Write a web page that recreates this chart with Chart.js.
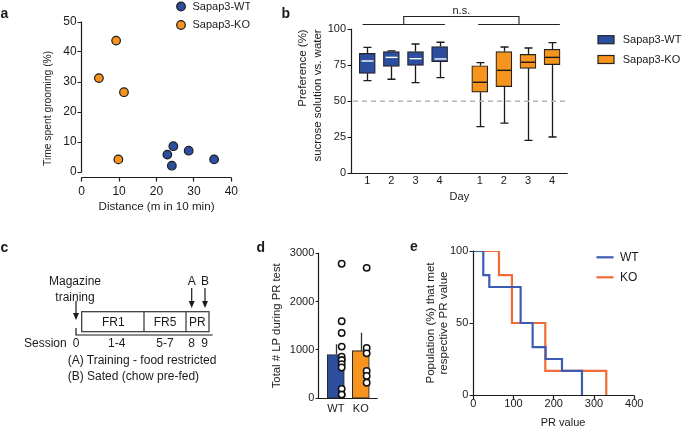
<!DOCTYPE html>
<html><head><meta charset="utf-8">
<script src="https://cdn.jsdelivr.net/npm/chart.js@4.4.0/dist/chart.umd.min.js"></script>
<style>
html,body{margin:0;padding:0;background:#fff;overflow:hidden;width:685px;height:428px;}
#wrap{position:relative;width:685px;height:428px;}
canvas{position:absolute;}
svg{position:absolute;left:0;top:0;}
</style></head><body><div id="wrap">
<canvas id="ca" width="250" height="215" style="left:0;top:0;width:250px;height:215px"></canvas>
<canvas id="cb" width="435" height="205" style="left:250px;top:0;width:435px;height:205px"></canvas>
<canvas id="cd" width="150" height="223" style="left:250px;top:205px;width:150px;height:223px"></canvas>
<canvas id="ce" width="285" height="223" style="left:400px;top:205px;width:285px;height:223px"></canvas>
<svg width="685" height="428" viewBox="0 0 685 428" font-family="'Liberation Sans', Arial, sans-serif" font-size="12" fill="#1a1a1a">
 <g font-weight="bold" font-size="14">
  <text x="0.5" y="18">a</text>
  <text x="281.5" y="18">b</text>
  <text x="0.5" y="252">c</text>
  <text x="256.5" y="251.5">d</text>
  <text x="410" y="250.5">e</text>
 </g>
 <g dominant-baseline="central">
  <text x="75" y="281" text-anchor="middle">Magazine</text>
  <text x="75" y="296.7" text-anchor="middle">training</text>
  <text x="191.7" y="281" text-anchor="middle">A</text>
  <text x="205" y="281" text-anchor="middle">B</text>
  <text x="113.3" y="322.2" text-anchor="middle">FR1</text>
  <text x="165" y="322.2" text-anchor="middle">FR5</text>
  <text x="197.3" y="322.2" text-anchor="middle">PR</text>
  <text x="66.7" y="342.7" text-anchor="end">Session</text>
  <text x="76" y="342.7" text-anchor="middle">0</text>
  <text x="116.7" y="342.7" text-anchor="middle">1-4</text>
  <text x="165" y="342.7" text-anchor="middle">5-7</text>
  <text x="191.7" y="342.7" text-anchor="middle">8</text>
  <text x="204.5" y="342.7" text-anchor="middle">9</text>
  <text x="67.7" y="360">(A) Training - food restricted</text>
  <text x="67.7" y="375.7">(B) Sated (chow pre-fed)</text>
 </g>
 <g stroke="#1a1a1a" stroke-width="1.2" fill="none">
  <line x1="76" y1="301" x2="76" y2="314"/>
  <line x1="191.7" y1="288" x2="191.7" y2="302"/>
  <line x1="205" y1="288" x2="205" y2="302"/>
  <rect x="81.7" y="311.7" width="127.3" height="20" stroke="#333"/>
  <line x1="144" y1="311.7" x2="144" y2="331.7" stroke="#333"/>
  <line x1="186" y1="311.7" x2="186" y2="331.7" stroke="#333"/>
  <line x1="75.5" y1="335" x2="212.7" y2="335"/>
  <line x1="76" y1="328" x2="76" y2="335"/>
 </g>
 <g fill="#1a1a1a">
  <path d="M73,313 L79,313 L76,320 Z"/>
  <path d="M188.7,301 L194.7,301 L191.7,308 Z"/>
  <path d="M202,301 L208,301 L205,308 Z"/>
 </g>
</svg>
</div>
<script>
// ---------- Panel a: grooming vs distance ----------
const distWT  = [24.5, 22.9, 28.6, 24.1, 35.4];
const groomWT = [8.6, 5.8, 7.1, 2.1, 4.2];
const distKO  = [9.2, 4.6, 11.3, 9.8];
const groomKO = [43.8, 31.3, 26.6, 4.2];

// ---------- Panel b: sucrose preference box plots ----------
const dayLabels = ['1', '2', '3', '4'];
const wtMin = [64.3, 65.3, 63.0, 66.4];
const wtQ1  = [69.4, 74.3, 75.0, 77.5];
const wtMed = [78.0, 80.5, 79.6, 79.4];
const wtQ3  = [83.3, 84.5, 84.5, 88.0];
const wtMax = [87.5, 85.0, 89.8, 91.0];
const koMin = [32.4, 34.9, 22.9, 25.2];
const koQ1  = [56.3, 60.2, 72.9, 75.5];
const koMed = [63.2, 71.5, 77.1, 80.5];
const koQ3  = [74.7, 84.5, 82.6, 86.1];
const koMax = [76.8, 87.7, 87.0, 90.7];
const chanceLevel = 50;

// ---------- Panel d: total lever presses ----------
const genotypes = ['WT', 'KO'];
const lpMean = [905, 985];
const lpSem  = [213, 372];
const lpWT = [2783, 1594, 1350, 1070, 860, 790, 790, 706, 636, 196, 77, 77];
const lpKO = [2699, 1042, 930, 566, 462, 322];

// ---------- Panel e: PR survival ----------
const prWT  = [0, 24.8, 39.8, 117.6, 147.4, 179.7, 220.3, 270];
const popWT = [100, 83.3, 75, 50, 33.3, 25, 16.7, 0];
const prKO  = [0, 63.8, 96, 178.9, 330.4];
const popKO = [100, 83.3, 50, 16.7, 0];

const COL = { blue: '#2C4E9F', orange: '#F7941D', dark: '#1c1c1c', lineBlue: '#3C5CB4', lineOrange: '#F26A36' };
const FONT = "'Liberation Sans', Arial, Helvetica, sans-serif";
Chart.defaults.font.family = FONT;
Chart.defaults.font.size = 11;
Chart.defaults.color = '#1a1a1a';
Chart.defaults.animation = false;
Chart.defaults.responsive = false;
Chart.defaults.events = [];
Chart.defaults.plugins.legend.display = false;
Chart.defaults.plugins.tooltip.enabled = false;

const noGrid = { display: false, drawTicks: false };
const noBorder = { display: false };
const plainNum = v => String(v);

// Prism-style axes drawn from the chart's own scales
const prismAxes = {
  id: 'prismAxes',
  beforeDatasetsDraw(chart, args, o) {
    const { ctx, chartArea: ca } = chart;
    const x = chart.scales.x, y = chart.scales.y;
    const r = v => Math.round(v - 0.5) + 0.5;
    ctx.save();
    ctx.strokeStyle = o.color || COL.dark;
    ctx.lineWidth = o.width || 1.2;
    ctx.beginPath();
    const ax = r(ca.left);
    ctx.moveTo(ax, y.getPixelForValue(y.max) - 0.5);
    ctx.lineTo(ax, y.getPixelForValue(y.min) + 0.5);
    if (o.yTicks) y.ticks.forEach(t => { const p = r(y.getPixelForValue(t.value)); ctx.moveTo(ax - o.tick, p); ctx.lineTo(ax, p); });
    const ay = r(ca.bottom + (o.xGap || 0));
    ctx.moveTo(ax - (o.xGap ? 0 : 0.5), ay);
    ctx.lineTo(ca.right, ay);
    if (o.xTicks) x.ticks.forEach(t => { const p = r(x.getPixelForValue(t.value)); ctx.moveTo(p, ay); ctx.lineTo(p, ay + o.tick); });
    ctx.stroke();
    ctx.restore();
  }
};

// Axis title placed along a scale (rotated for y, horizontal for x)
const axisTitle = {
  id: 'axisTitle',
  afterDraw(chart, args, o) {
    const ctx = chart.ctx;
    ctx.save();
    ctx.font = o.size + 'px ' + FONT;
    ctx.fillStyle = '#1a1a1a';
    ctx.textAlign = 'center'; ctx.textBaseline = 'middle';
    if (o.axis === 'y') {
      ctx.translate(o.x, chart.scales.y.getPixelForValue(o.atValue));
      ctx.rotate(-Math.PI / 2);
      ctx.fillText(o.text, 0, 0);
    } else {
      ctx.fillText(o.text, chart.scales.x.getPixelForValue(o.atValue), o.y);
    }
    ctx.restore();
  }
};

// Custom legends
const customLegend = {
  id: 'customLegend',
  afterDraw(chart, args, o) {
    const ctx = chart.ctx;
    ctx.save();
    ctx.font = (o.fontSize || 11) + 'px ' + FONT;
    ctx.textBaseline = 'middle';
    o.items.forEach(it => {
      if (o.kind === 'dot') {
        ctx.beginPath(); ctx.arc(it.mx, it.my, 4.3, 0, Math.PI * 2);
        ctx.fillStyle = it.color; ctx.fill();
        ctx.lineWidth = 1.2; ctx.strokeStyle = COL.dark; ctx.stroke();
      } else if (o.kind === 'box') {
        ctx.fillStyle = it.color; ctx.fillRect(it.mx, it.my - 4, 16, 8);
        ctx.lineWidth = 1.2; ctx.strokeStyle = '#222'; ctx.strokeRect(it.mx, it.my - 4, 16, 8);
      } else {
        ctx.beginPath(); ctx.moveTo(it.mx, it.my); ctx.lineTo(it.mx + 17, it.my);
        ctx.lineWidth = 2.2; ctx.strokeStyle = it.color; ctx.stroke();
      }
      ctx.fillStyle = '#1a1a1a';
      ctx.fillText(it.text, it.tx, it.my);
    });
    ctx.restore();
  }
};

// ---------------- Panel a ----------------
new Chart(document.getElementById('ca'), {
  type: 'scatter',
  data: { datasets: [
    { label: 'Sapap3-WT', data: distWT.map((d, i) => ({ x: d, y: groomWT[i] })), backgroundColor: COL.blue, borderColor: COL.dark, borderWidth: 1.2, pointRadius: 4.3 },
    { label: 'Sapap3-KO', data: distKO.map((d, i) => ({ x: d, y: groomKO[i] })), backgroundColor: COL.orange, borderColor: COL.dark, borderWidth: 1.2, pointRadius: 4.3 }
  ]},
  options: {
    layout: { padding: { left: 0, top: 22, right: 16.7, bottom: 0 } },
    scales: {
      x: { type: 'linear', min: 0, max: 40, offset: false, grid: noGrid, border: noBorder,
           ticks: { stepSize: 10, padding: 12, maxRotation: 0, font: { size: 12 } },
           title: { display: true, text: 'Distance (m in 10 min)', font: { size: 11.6 }, padding: { top: 0, bottom: 1.2 } },
           afterFit: s => { s.height = 43; } },
      y: { min: 0, max: 50, grid: noGrid, border: noBorder,
           ticks: { stepSize: 10, padding: 5, font: { size: 12 } },
           afterFit: s => { s.width = 81.7; } }
    },
    plugins: {
      prismAxes: { xGap: 5, tick: 4, xTicks: true, yTicks: true },
      axisTitle: { axis: 'y', text: 'Time spent grooming (%)', x: 48.3, atValue: 21.2, size: 10.3 },
      customLegend: { kind: 'dot', items: [
        { text: 'Sapap3-WT', color: COL.blue, mx: 181, my: 6.5, tx: 192.5 },
        { text: 'Sapap3-KO', color: COL.orange, mx: 181, my: 25, tx: 192.5 }
      ]}
    }
  },
  plugins: [prismAxes, axisTitle, customLegend]
});

// ---------------- Panel b ----------------
const groupGap = 0.667;
const posWT = dayLabels.map((d, i) => i + 1);
const posKO = dayLabels.map((d, i) => i + 1 + dayLabels.length + groupGap);
const allPos = posWT.concat(posKO);
const allLabels = dayLabels.concat(dayLabels);

const boxWhiskers = {
  id: 'boxWhiskers',
  afterDatasetsDraw(chart, args, o) {
    const { ctx } = chart; const x = chart.scales.x, y = chart.scales.y;
    ctx.save();
    o.groups.forEach(g => {
      g.pos.forEach((p, i) => {
        const px = Math.round(x.getPixelForValue(p)) + 0.5;
        const cap = o.capWidth / 2, half = o.boxWidth / 2;
        const yMax = y.getPixelForValue(g.max[i]), yMin = y.getPixelForValue(g.min[i]);
        ctx.strokeStyle = o.color; ctx.lineWidth = o.lineWidth;
        ctx.beginPath();
        ctx.moveTo(px, y.getPixelForValue(g.q3[i])); ctx.lineTo(px, yMax);
        ctx.moveTo(px - cap, yMax); ctx.lineTo(px + cap, yMax);
        ctx.moveTo(px, y.getPixelForValue(g.q1[i])); ctx.lineTo(px, yMin);
        ctx.moveTo(px - cap, yMin); ctx.lineTo(px + cap, yMin);
        ctx.stroke();
        const ym = y.getPixelForValue(g.med[i]);
        ctx.strokeStyle = g.medColor; ctx.lineWidth = 1.4;
        ctx.beginPath(); ctx.moveTo(px - half + g.inset, ym); ctx.lineTo(px + half - g.inset, ym); ctx.stroke();
      });
    });
    const yc = y.getPixelForValue(o.chance);
    ctx.setLineDash([5, 4]); ctx.strokeStyle = '#b5b5b5'; ctx.lineWidth = 1.5;
    ctx.beginPath(); ctx.moveTo(chart.chartArea.left + 2, yc); ctx.lineTo(chart.chartArea.right, yc); ctx.stroke();
    ctx.setLineDash([]);
    const b = o.bracket;
    const xa0 = x.getPixelForValue(b.wt[0]), xa1 = x.getPixelForValue(b.wt[1]);
    const xb0 = x.getPixelForValue(b.ko[0]), xb1 = x.getPixelForValue(b.ko[1]);
    const ca = (xa0 + xa1) / 2, cb = (xb0 + xb1) / 2;
    ctx.strokeStyle = '#222'; ctx.lineWidth = 1.1;
    ctx.beginPath();
    ctx.moveTo(xa0, b.low); ctx.lineTo(xa1, b.low);
    ctx.moveTo(xb0, b.low); ctx.lineTo(xb1, b.low);
    ctx.moveTo(ca, b.low); ctx.lineTo(ca, b.high); ctx.lineTo(cb, b.high); ctx.lineTo(cb, b.low);
    ctx.stroke();
    ctx.fillStyle = '#1a1a1a'; ctx.font = '11px ' + FONT; ctx.textAlign = 'center'; ctx.textBaseline = 'middle';
    ctx.fillText(b.text, (ca + cb) / 2, b.textY);
    ctx.restore();
  }
};

new Chart(document.getElementById('cb'), {
  type: 'bar',
  data: { datasets: [
    { label: 'Sapap3-WT', data: posWT.map((p, i) => ({ x: p, y: [wtQ1[i], wtQ3[i]] })), backgroundColor: COL.blue, borderColor: '#222', borderWidth: 1.2, borderSkipped: false, barThickness: 16, grouped: false },
    { label: 'Sapap3-KO', data: posKO.map((p, i) => ({ x: p, y: [koQ1[i], koQ3[i]] })), backgroundColor: COL.orange, borderColor: '#222', borderWidth: 1.2, borderSkipped: false, barThickness: 16, grouped: false }
  ]},
  options: {
    layout: { padding: { left: 0, top: 29.3, right: 117.3, bottom: 0 } },
    scales: {
      x: { type: 'linear', min: 0.324, max: 9.316, offset: false, grid: noGrid, border: noBorder,
           afterBuildTicks: s => { s.ticks = allPos.map(v => ({ value: v })); },
           ticks: { autoSkip: false, maxRotation: 0, padding: 0.8, callback: (v, i) => allLabels[i] },
           title: { display: true, text: 'Day', padding: { top: 0, bottom: 1.9 } },
           afterFit: s => { s.height = 31.7; } },
      y: { min: 0, max: 100, grid: noGrid, border: noBorder,
           ticks: { stepSize: 25, padding: 5 },
           title: { display: true, text: ['Preference (%)', 'sucrose solution vs. water'], align: 'end',
                    font: { size: 11.5, lineHeight: '15px' }, padding: { top: 45.8, bottom: 0 } },
           afterFit: s => { s.width = 101; } }
    },
    plugins: {
      prismAxes: { xGap: 0, tick: 4, xTicks: false, yTicks: true },
      boxWhiskers: {
        capWidth: 8, boxWidth: 16, color: '#1a1a1a', lineWidth: 1.3, chance: chanceLevel,
        groups: [
          { pos: posWT, min: wtMin, q1: wtQ1, med: wtMed, q3: wtQ3, max: wtMax, medColor: '#ffffff', inset: 2 },
          { pos: posKO, min: koMin, q1: koQ1, med: koMed, q3: koQ3, max: koMax, medColor: '#1a1a1a', inset: 0.5 }
        ],
        bracket: { wt: [0.805, 4.22], ko: [5.6, 8.99], low: 24.5, high: 16.5, text: 'n.s.', textY: 10.5 }
      },
      customLegend: { kind: 'box', items: [
        { text: 'Sapap3-WT', color: COL.blue, mx: 348, my: 39.7, tx: 372.7 },
        { text: 'Sapap3-KO', color: COL.orange, mx: 348, my: 59.5, tx: 372.7 }
      ]}
    }
  },
  plugins: [prismAxes, boxWhiskers, customLegend]
});

// ---------------- Panel d ----------------
const barPos = genotypes.map((g, i) => i + 1);
const dotShift = 0.235;
const errorBars = {
  id: 'errorBars',
  beforeDatasetsDraw(chart, args, o) {
    const { ctx } = chart; const x = chart.scales.x, y = chart.scales.y;
    ctx.save(); ctx.strokeStyle = '#333'; ctx.lineWidth = 1.3;
    ctx.beginPath();
    o.pos.forEach((p, i) => {
      const px = Math.round(x.getPixelForValue(p)) + 0.5;
      ctx.moveTo(px, y.getPixelForValue(o.mean[i])); ctx.lineTo(px, y.getPixelForValue(o.mean[i] + o.sem[i]));
    });
    ctx.stroke(); ctx.restore();
  }
};
new Chart(document.getElementById('cd'), {
  type: 'bar',
  data: { datasets: [
    { type: 'scatter', label: 'WT points', data: lpWT.map(v => ({ x: barPos[0] + dotShift, y: v })), backgroundColor: '#fff', borderColor: '#111', borderWidth: 1.5, pointRadius: 3.2, order: 0 },
    { type: 'scatter', label: 'KO points', data: lpKO.map(v => ({ x: barPos[1] + dotShift, y: v })), backgroundColor: '#fff', borderColor: '#111', borderWidth: 1.5, pointRadius: 3.2, order: 0 },
    { type: 'bar', label: 'Mean', data: barPos.map((p, i) => ({ x: p, y: lpMean[i] })), backgroundColor: [COL.blue, COL.orange], borderColor: '#2a2a2a', borderWidth: 1.1, borderSkipped: false, barThickness: 17, grouped: false, order: 1 }
  ]},
  options: {
    layout: { padding: { left: 0, top: 48.3, right: 22.3, bottom: 0 } },
    scales: {
      x: { type: 'linear', min: 0.3, max: 2.676, offset: false, grid: noGrid, border: noBorder,
           afterBuildTicks: s => { s.ticks = barPos.map(v => ({ value: v })); },
           ticks: { autoSkip: false, maxRotation: 0, padding: 4.5, callback: (v, i) => genotypes[i] },
           afterFit: s => { s.height = 29.7; } },
      y: { min: 0, max: 3000, grid: noGrid, border: noBorder,
           ticks: { stepSize: 1000, padding: 4, callback: plainNum },
           title: { display: true, text: 'Total # LP during PR test', font: { size: 11.3 }, padding: { top: 20.1, bottom: 0 } },
           afterFit: s => { s.width = 68.3; } }
    },
    plugins: {
      prismAxes: { xGap: 0, tick: 3, xTicks: false, yTicks: true },
      errorBars: { pos: barPos, mean: lpMean, sem: lpSem }
    }
  },
  plugins: [prismAxes, errorBars]
});

// ---------------- Panel e ----------------
new Chart(document.getElementById('ce'), {
  type: 'line',
  data: { datasets: [
    { label: 'WT', data: prWT.map((v, i) => ({ x: v, y: popWT[i] })), borderColor: COL.lineBlue, borderWidth: 2.2, stepped: 'before', pointRadius: 0, fill: false },
    { label: 'KO', data: prKO.map((v, i) => ({ x: v, y: popKO[i] })), borderColor: COL.lineOrange, borderWidth: 2.2, stepped: 'before', pointRadius: 0, fill: false }
  ]},
  options: {
    layout: { padding: { left: 0, top: 46, right: 50.7, bottom: 0 } },
    scales: {
      x: { type: 'linear', min: 0, max: 400, offset: false, grid: noGrid, border: noBorder,
           ticks: { stepSize: 100, padding: 2.5, maxRotation: 0 },
           afterFit: s => { s.height = 33; } },
      y: { min: 0, max: 100, grid: noGrid, border: noBorder,
           ticks: { stepSize: 50, padding: 5 },
           title: { display: true, text: ['Population (%) that met', 'respective PR value'],
                    font: { size: 11.6, lineHeight: '12.8px' }, padding: { top: 24.3, bottom: 0 } },
           afterFit: s => { s.width = 73.3; } }
    },
    plugins: {
      prismAxes: { xGap: 0, tick: 4, xTicks: true, yTicks: true },
      axisTitle: { axis: 'x', text: 'PR value', atValue: 223, y: 217.5, size: 11 },
      customLegend: { kind: 'line', fontSize: 12, items: [
        { text: 'WT', color: COL.lineBlue, mx: 196.5, my: 52.3, tx: 220 },
        { text: 'KO', color: COL.lineOrange, mx: 196.5, my: 72.3, tx: 220 }
      ]}
    }
  },
  plugins: [prismAxes, axisTitle, customLegend]
});
</script>
</body></html>
